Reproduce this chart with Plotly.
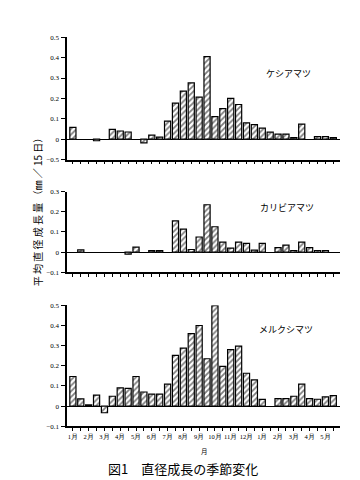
import plotly.graph_objects as go

# half-month periods: Jan (yr1) .. May (yr2), 2 per month
months = ["1月", "2月", "3月", "4月", "5月", "6月", "7月", "8月", "9月",
          "10月", "11月", "12月", "1月", "2月", "3月", "4月", "5月"]
periods = list(range(1, 35))

species = ["ケシアマツ", "カリビアマツ", "メルクシマツ"]

kesia = [0.058, None, None, -0.008, None, 0.048, 0.04, 0.035, None, -0.018,
         0.02, 0.01, 0.088, 0.177, 0.236, 0.276, 0.206, 0.405, 0.11, 0.15,
         0.2, 0.17, 0.08, 0.071, 0.054, 0.034, 0.025, 0.025, 0.007, 0.074,
         None, 0.012, 0.012, 0.007]

caribaea = [None, 0.011, None, None, None, None, None, -0.01, 0.025, None,
            0.007, 0.007, None, 0.155, 0.114, 0.013, 0.075, 0.235, 0.126, 0.05,
            0.02, 0.05, 0.043, 0.01, 0.043, None, 0.022, 0.035, 0.008, 0.05,
            0.022, 0.008, 0.008, None]

merkusii = [0.147, 0.036, 0.006, 0.055, -0.033, 0.049, 0.091, 0.088, 0.147, 0.07,
            0.06, 0.06, 0.109, 0.252, 0.288, 0.36, 0.40, 0.235, 0.498, 0.197,
            0.28, 0.298, 0.163, 0.13, 0.033, None, 0.037, 0.037, 0.049, 0.109,
            0.037, 0.034, 0.046, 0.052]

series = [kesia, caribaea, merkusii]
yranges = [[-0.1, 0.5], [-0.1, 0.3], [-0.1, 0.5]]
ytickvals = [[-0.1, 0, 0.1, 0.2, 0.3, 0.4, 0.5], [-0.1, 0, 0.1, 0.2, 0.3],
             [-0.1, 0, 0.1, 0.2, 0.3, 0.4, 0.5]]
yticktext = [["−0.5", "0", "0.1", "0.2", "0.3", "0.4", "0.5"],
             ["−0.1", "0", "0.1", "0.2", "0.3"],
             ["−0.1", "0", "0.1", "0.2", "0.3", "0.4", "0.5"]]

W, H = 360, 480
xdom = [58.5 / W, 332 / W]
# (top_px, bottom_px) of each panel
panels_px = [(25.7, 150.0), (182.7, 264.7), (298.3, 421.3)]

fig = go.Figure()
tick_font = dict(family="Liberation Serif", size=7, color="black")

for i, (vals, name) in enumerate(zip(series, species)):
    n = "" if i == 0 else str(i + 1)
    fig.add_trace(go.Bar(
        x=periods, y=vals, xaxis="x" + n, yaxis="y" + n, width=0.78,
        marker=dict(color="white", line=dict(color="black", width=1.2),
                    pattern=dict(shape="/", fgcolor="black", bgcolor="white",
                                 size=4, solidity=0.45)),
        showlegend=False))
    top, bot = panels_px[i]
    ydom = [(H - bot) / H, (H - top) / H]
    if i == 2:
        ttext = []
        for k in range(34):
            ttext.append(months[k // 2] if k % 2 == 0 else "")
    else:
        ttext = [""] * 34
    fig.layout["xaxis" + n] = dict(
        domain=xdom, anchor="y" + n, range=[0.19, 34.85],
        showline=True, linecolor="black", linewidth=1.5,
        ticks="outside", ticklen=3, tickwidth=1, tickcolor="black",
        tickvals=periods, ticktext=ttext, tickangle=0,
        tickfont=dict(family="Liberation Serif", size=6.5, color="black"),
        showgrid=False, zeroline=False, fixedrange=True)
    fig.layout["yaxis" + n] = dict(
        domain=ydom, anchor="x" + n, range=yranges[i],
        showline=True, linecolor="black", linewidth=2,
        ticks="outside", ticklen=4, tickwidth=1, tickcolor="black",
        tickvals=ytickvals[i], ticktext=yticktext[i], tickfont=tick_font,
        showgrid=False, zeroline=True, zerolinecolor="black", zerolinewidth=1,
        fixedrange=True)

annots = [
    dict(text="ケシアマツ", x=280 / W, y=(H - 63) / H),
    dict(text="カリビアマツ", x=279 / W, y=(H - 199) / H),
    dict(text="メルクシマツ", x=278 / W, y=(H - 323) / H),
]
out = []
for a in annots:
    out.append(dict(text=a["text"], x=a["x"], y=a["y"], xref="paper", yref="paper",
                    showarrow=False, xanchor="center", yanchor="middle",
                    font=dict(family="Noto Sans CJK JP", size=9, color="black")))
out.append(dict(text="月", x=196.5 / W, y=(H - 446) / H, xref="paper", yref="paper",
                showarrow=False, yanchor="middle",
                font=dict(family="Noto Sans CJK JP", size=6.5, color="black")))
out.append(dict(text="図1　直径成長の季節変化", x=175 / W, y=(H - 464) / H,
                xref="paper", yref="paper", showarrow=False, yanchor="middle",
                font=dict(family="Noto Sans CJK JP", size=13, color="black")))
out.append(dict(text="平 均 直 径 成 長 量 （㎜ ／ 15 日）", x=20 / W, y=(H - 201) / H,
                xref="paper", yref="paper", showarrow=False, textangle=-90,
                font=dict(family="Noto Sans CJK JP", size=10, color="black")))

fig.update_layout(width=W, height=H, margin=dict(l=0, r=0, t=0, b=0),
                  paper_bgcolor="white", plot_bgcolor="white", bargap=0.2,
                  annotations=out)

fig.write_html("out.html")
